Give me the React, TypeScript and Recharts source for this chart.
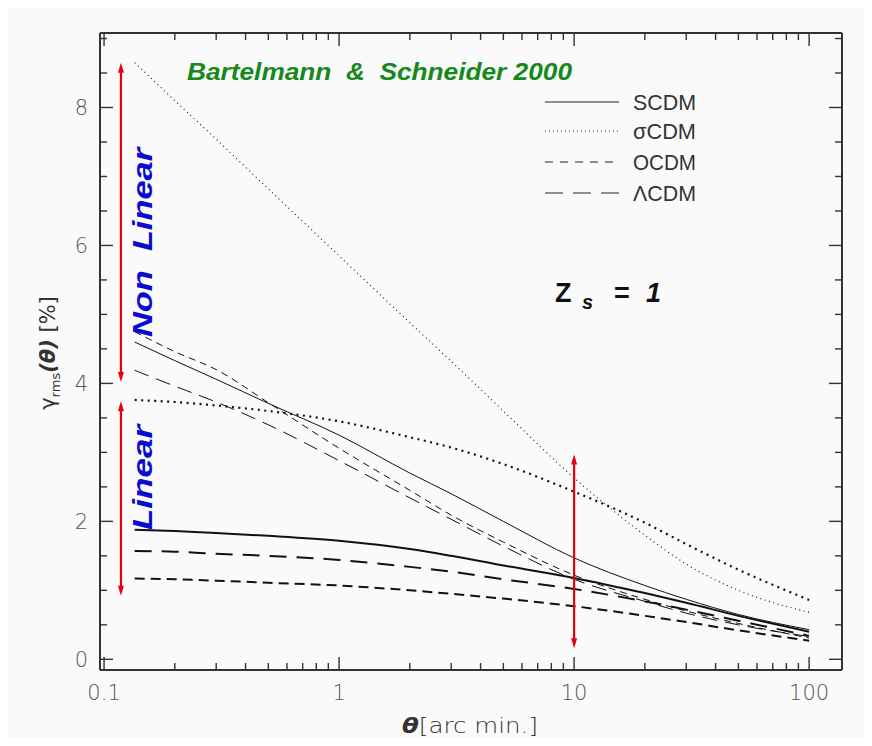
import React from 'react';
import { LineChart, Line, XAxis, YAxis, ReferenceLine, Legend } from 'recharts';

// angular scale theta [arc min]
const thetaArcmin = [0.135, 0.2, 0.3, 0.5, 1, 2, 3, 5, 10, 20, 30, 50, 100];

// non-linear (thin lines)
const scdmNonLinear = [4.6, 4.33, 4.06, 3.71, 3.25, 2.7, 2.4, 2.0, 1.47, 1.07, 0.87, 0.65, 0.43];
const sigmaCdmNonLinear = [8.65, 8.1, 7.54, 6.82, 5.85, 4.88, 4.32, 3.6, 2.63, 1.8, 1.38, 1.0, 0.68];
const ocdmNonLinear = [4.75, 4.46, 4.2, 3.72, 3.06, 2.45, 2.09, 1.7, 1.22, 0.87, 0.7, 0.52, 0.31];
const lcdmNonLinear = [4.19, 3.96, 3.73, 3.4, 2.88, 2.34, 2.03, 1.64, 1.16, 0.84, 0.67, 0.5, 0.33];

// linear (thick lines)
const scdmLinear = [1.88, 1.86, 1.83, 1.79, 1.72, 1.6, 1.5, 1.36, 1.18, 0.96, 0.82, 0.63, 0.4];
const sigmaCdmLinear = [3.76, 3.73, 3.68, 3.6, 3.45, 3.22, 3.07, 2.83, 2.43, 1.98, 1.67, 1.3, 0.86];
const ocdmLinear = [1.17, 1.16, 1.14, 1.11, 1.07, 1.0, 0.95, 0.88, 0.77, 0.63, 0.54, 0.42, 0.27];
const lcdmLinear = [1.57, 1.56, 1.53, 1.5, 1.44, 1.34, 1.27, 1.16, 1.02, 0.84, 0.72, 0.56, 0.34];

// ticks
const xTicks = [0.1, 0.2, 0.3, 0.4, 0.5, 0.6, 0.7, 0.8, 0.9, 1, 2, 3, 4, 5, 6, 7, 8, 9, 10, 20, 30, 40, 50, 60, 70, 80, 90, 100];
const xMajorTicks = [0.1, 1, 10, 100];
const xTickLabels = ['0.1', '1', '10', '100'];
const yTicks = [0, 0.5, 1, 1.5, 2, 2.5, 3, 3.5, 4, 4.5, 5, 5.5, 6, 6.5, 7, 7.5, 8, 8.5, 9];
const yMajorTicks = [0, 2, 4, 6, 8];

// red double arrows (theta, gamma from, gamma to)
const arrowTheta = [0.118, 0.118, 10];
const arrowTop = [8.65, 3.74, 2.97];
const arrowBottom = [4.02, 0.92, 0.16];

// legend
const legendNames = ['SCDM', '\u03c3CDM', 'OCDM', '\u039bCDM'];
const legendDash = ['', '1 3', '8 7', '18 10'];

const data = thetaArcmin.map((t, i) => ({
  theta: t,
  scdmNL: scdmNonLinear[i],
  sigmaNL: sigmaCdmNonLinear[i],
  ocdmNL: ocdmNonLinear[i],
  lcdmNL: lcdmNonLinear[i],
  scdmL: scdmLinear[i],
  sigmaL: sigmaCdmLinear[i],
  ocdmL: ocdmLinear[i],
  lcdmL: lcdmLinear[i],
}));

const series = [
  { key: 'scdmNL', width: 1, dash: undefined },
  { key: 'sigmaNL', width: 1.1, dash: '1 3.5' },
  { key: 'ocdmNL', width: 1, dash: '7 5' },
  { key: 'lcdmNL', width: 1, dash: '15 8' },
  { key: 'scdmL', width: 2, dash: undefined },
  { key: 'sigmaL', width: 2.2, dash: '2 4.5' },
  { key: 'ocdmL', width: 2, dash: '10 6' },
  { key: 'lcdmL', width: 2, dash: '17 10' },
];

const AXIS = '#333';
const TICK_FONT = '"DejaVu Sans", sans-serif';
const isIn = (arr: number[], v: number) => arr.findIndex((m) => Math.abs(m - v) < 1e-9);

const BottomTick = (props: any) => {
  const { x, y, payload } = props;
  const idx = isIn(xMajorTicks, payload.value);
  const major = idx >= 0;
  return (
    <g>
      <line x1={x} y1={y} x2={x} y2={y - (major ? 13 : 7)} stroke={AXIS} strokeWidth={1.4} />
      {major && (
        <text x={x} y={y + 30} textAnchor="middle" fontFamily={TICK_FONT} fontWeight={200} fontSize={21} fill="#555">
          {xTickLabels[idx]}
        </text>
      )}
    </g>
  );
};

const TopTick = (props: any) => {
  const { x, y, payload } = props;
  const major = isIn(xMajorTicks, payload.value) >= 0;
  return <line x1={x} y1={y} x2={x} y2={y + (major ? 13 : 7)} stroke={AXIS} strokeWidth={1.4} />;
};

const LeftTick = (props: any) => {
  const { x, y, payload } = props;
  const major = isIn(yMajorTicks, payload.value) >= 0;
  return (
    <g>
      <line x1={x} y1={y} x2={x + (major ? 13 : 7)} y2={y} stroke={AXIS} strokeWidth={1.4} />
      {major && (
        <text x={x - 12} y={y + 8} textAnchor="end" fontFamily={TICK_FONT} fontWeight={200} fontSize={21} fill="#555">
          {String(payload.value)}
        </text>
      )}
    </g>
  );
};

const RightTick = (props: any) => {
  const { x, y, payload } = props;
  const major = isIn(yMajorTicks, payload.value) >= 0;
  return <line x1={x} y1={y} x2={x - (major ? 13 : 7)} y2={y} stroke={AXIS} strokeWidth={1.4} />;
};

const ArrowShape = (props: any) => {
  const { x1, y1, x2, y2 } = props;
  const top = Math.min(y1, y2);
  const bot = Math.max(y1, y2);
  const x = x1;
  const c = '#e3000f';
  return (
    <g>
      <line x1={x} y1={top + 4} x2={x2} y2={bot - 4} stroke={c} strokeWidth={2.2} />
      <polygon points={`${x},${top} ${x - 3},${top + 10} ${x + 3},${top + 10}`} fill={c} />
      <polygon points={`${x},${bot} ${x - 3},${bot - 10} ${x + 3},${bot - 10}`} fill={c} />
    </g>
  );
};

const LegendContent = () => (
  <svg width={200} height={130} style={{ display: 'block', overflow: 'visible' }}>
    {legendNames.map((name, i) => {
      const ly = 14 + [0, 29, 60, 91][i];
      return (
        <g key={name}>
          <line x1={0} y1={ly} x2={74} y2={ly} stroke="#222" strokeWidth={1.1} strokeDasharray={legendDash[i] || undefined} />
          <text x={88} y={ly + 8} fontFamily='"Liberation Sans Narrow", "Liberation Sans", sans-serif' fontSize={22} fill="#333" textLength={63} lengthAdjust="spacingAndGlyphs">
            {name}
          </text>
        </g>
      );
    })}
  </svg>
);

export default function App() {
  const W = 856;
  const H = 730;
  return (
    <div style={{ position: 'relative', width: W, height: H, background: '#fafafa' }}>
      <LineChart width={W} height={H} data={data} margin={{ top: 24, right: 21, bottom: 38, left: 32 }}>
        <XAxis
          xAxisId="b"
          dataKey="theta"
          type="number"
          scale="log"
          domain={[0.0961, 138]}
          allowDataOverflow
          ticks={xTicks}
          interval={0}
          tickSize={0}
          tickMargin={0}
          tickLine={false}
          tick={<BottomTick />}
          axisLine={{ stroke: AXIS, strokeWidth: 2 }}
          height={30}
        />
        <XAxis
          xAxisId="t"
          orientation="top"
          dataKey="theta"
          type="number"
          scale="log"
          domain={[0.0961, 138]}
          allowDataOverflow
          ticks={xTicks}
          interval={0}
          tickSize={0}
          tickMargin={0}
          tickLine={false}
          tick={<TopTick />}
          axisLine={{ stroke: AXIS, strokeWidth: 2 }}
          height={1}
        />
        <YAxis
          yAxisId="l"
          type="number"
          domain={[-0.155, 9.08]}
          allowDataOverflow
          ticks={yTicks}
          interval={0}
          tickSize={0}
          tickMargin={0}
          tickLine={false}
          tick={<LeftTick />}
          axisLine={{ stroke: AXIS, strokeWidth: 2 }}
          width={60}
        />
        <YAxis
          yAxisId="r"
          orientation="right"
          type="number"
          domain={[-0.155, 9.08]}
          allowDataOverflow
          ticks={yTicks}
          interval={0}
          tickSize={0}
          tickMargin={0}
          tickLine={false}
          tick={<RightTick />}
          axisLine={{ stroke: AXIS, strokeWidth: 2 }}
          width={1}
        />
        {series.map((s) => (
          <Line
            key={s.key}
            xAxisId="b"
            yAxisId="l"
            dataKey={s.key}
            type="monotone"
            stroke="#111"
            strokeWidth={s.width}
            strokeDasharray={s.dash}
            dot={false}
            activeDot={false}
            isAnimationActive={false}
          />
        ))}
        {arrowTheta.map((t, i) => (
          <ReferenceLine
            key={'arrow' + i}
            xAxisId="b"
            yAxisId="l"
            segment={[{ x: t, y: arrowTop[i] }, { x: t, y: arrowBottom[i] }]}
            ifOverflow="visible"
            shape={ArrowShape}
          />
        ))}
        <Legend
          layout="vertical"
          align="center"
          verticalAlign="middle"
          content={LegendContent}
          wrapperStyle={{ position: 'absolute', left: 537, top: 80, width: 200, height: 130 }}
        />
      </LineChart>
      <svg width={W} height={H} style={{ position: 'absolute', left: 0, top: 0, pointerEvents: 'none' }}>
        <text x={179} y={72} fontFamily='"Liberation Sans", Arial, sans-serif' fontWeight="bold" fontStyle="italic" fontSize={24} fill="#15891a" textLength={385} lengthAdjust="spacingAndGlyphs" xmlSpace="preserve">
          Bartelmann  &amp;  Schneider 2000
        </text>
        <text x={144} y={234.5} transform="rotate(-90 144 234.5)" textAnchor="middle" fontFamily='"Liberation Sans", Arial, sans-serif' fontWeight="bold" fontStyle="italic" fontSize={28} fill="#0a0ad0" textLength={189} lengthAdjust="spacingAndGlyphs" xmlSpace="preserve">
          Non  Linear
        </text>
        <text x={144} y={469.5} transform="rotate(-90 144 469.5)" textAnchor="middle" fontFamily='"Liberation Sans", Arial, sans-serif' fontWeight="bold" fontStyle="italic" fontSize={28} fill="#0a0ad0" textLength={105} lengthAdjust="spacingAndGlyphs">
          Linear
        </text>
        <text x={547} y={294} fontFamily='"Liberation Sans", Arial, sans-serif' fontWeight="bold" fontSize={27} fill="#111">
          Z
          <tspan x={574} dy={7} fontSize={20} fontStyle="italic">s</tspan>
          <tspan x={606} dy={-7}>=</tspan>
          <tspan x={638} fontStyle="italic">1</tspan>
        </text>
        <text x={47} y={345} transform="rotate(-90 47 345)" textAnchor="middle" fontFamily='"DejaVu Sans", sans-serif' fontSize={21} fill="#333">
          {'\u03b3'}
          <tspan fontSize={13} dy={5}>rms</tspan>
          <tspan dy={-5} fontWeight="bold" fontStyle="italic">(θ)</tspan>
          <tspan>{' [%]'}</tspan>
        </text>
        <text x={394} y={725} fontFamily='"DejaVu Sans", sans-serif' fontSize={22} fill="#333" textLength={136} lengthAdjust="spacingAndGlyphs">
          <tspan fontWeight="bold" fontStyle="italic">θ</tspan>
          <tspan fontWeight={200}>[arc min.]</tspan>
        </text>
      </svg>
    </div>
  );
}
